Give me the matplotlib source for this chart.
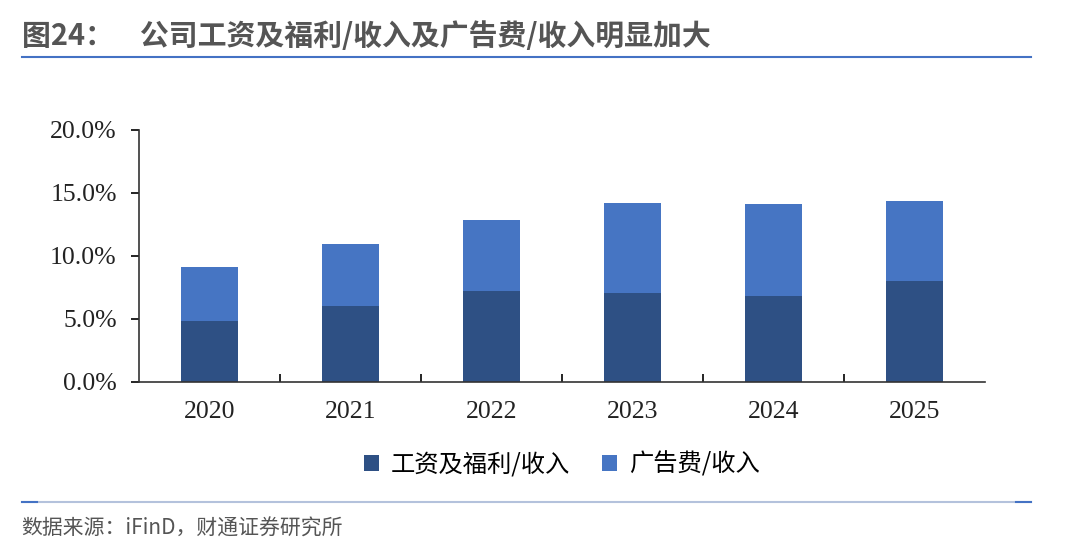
import matplotlib.pyplot as plt
from matplotlib.lines import Line2D
from matplotlib.ticker import PercentFormatter

plt.rcParams['font.family'] = ['Noto Sans CJK SC', 'DejaVu Sans']

years = ['2020', '2021', '2022', '2023', '2024', '2025']
salary_ratio = [4.84, 6.07, 7.22, 7.06, 6.83, 8.02]   # 工资及福利/收入 (%)
ad_ratio = [4.29, 4.88, 5.64, 7.14, 7.30, 6.35]       # 广告费/收入 (%)

dark = '#2E5084'
light = '#4675C3'

fig = plt.figure(figsize=(10.8, 5.52), dpi=100)
ax = fig.add_axes([0.1287, 0.308, 0.7833, 0.4565])

x = range(len(years))
ax.bar(x, salary_ratio, width=0.4, color=dark, label='工资及福利/收入')
ax.bar(x, ad_ratio, width=0.4, bottom=salary_ratio, color=light, label='广告费/收入')

ax.set_xlim(-0.5, len(years) - 0.5)
ax.set_ylim(0, 20)
ax.set_yticks([0, 5, 10, 15, 20])
ax.yaxis.set_major_formatter(PercentFormatter(decimals=1))
ax.set_xticks(list(x))
ax.set_xticklabels(years)
ax.set_xticks([i + 0.5 for i in range(len(years) - 1)], minor=True)
ax.tick_params(axis='x', which='major', length=0, pad=14)
ax.tick_params(axis='x', which='minor', direction='in', length=6, width=1.2)
ax.tick_params(axis='y', direction='out', length=6, width=1.2, pad=10)
for lab in ax.get_xticklabels() + ax.get_yticklabels():
    lab.set_family('Liberation Serif')
    lab.set_fontsize(18.5)
    lab.set_color('#222222')
for s in ['top', 'right']:
    ax.spines[s].set_visible(False)
for s in ['left', 'bottom']:
    ax.spines[s].set_linewidth(1.2)
    ax.spines[s].set_color('#333333')

ax.legend(loc='upper center', bbox_to_anchor=(0.5, -0.19), ncol=2, frameon=False,
          fontsize=17.5, handlelength=0.6, handleheight=0.6, columnspacing=1.3,
          handletextpad=0.5)

fig.text(0.02, 0.935, '图24：    公司工资及福利/收入及广告费/收入明显加大',
         fontsize=20.8, fontweight='bold', color='#555555', va='center')
fig.add_artist(Line2D([0.02, 0.955], [0.896, 0.896], color='#4472C4', lw=1.5))
fig.add_artist(Line2D([0.02, 0.955], [0.091, 0.091], color='#B4C2DC', lw=1.5))
fig.add_artist(Line2D([0.02, 0.034], [0.091, 0.091], color='#4472C4', lw=1.5))
fig.add_artist(Line2D([0.941, 0.955], [0.091, 0.091], color='#4472C4', lw=1.5))
fig.text(0.02, 0.043, '数据来源：iFinD，财通证券研究所', fontsize=15,
         color='#555555', va='center')

fig.savefig('out.png', dpi=100)
